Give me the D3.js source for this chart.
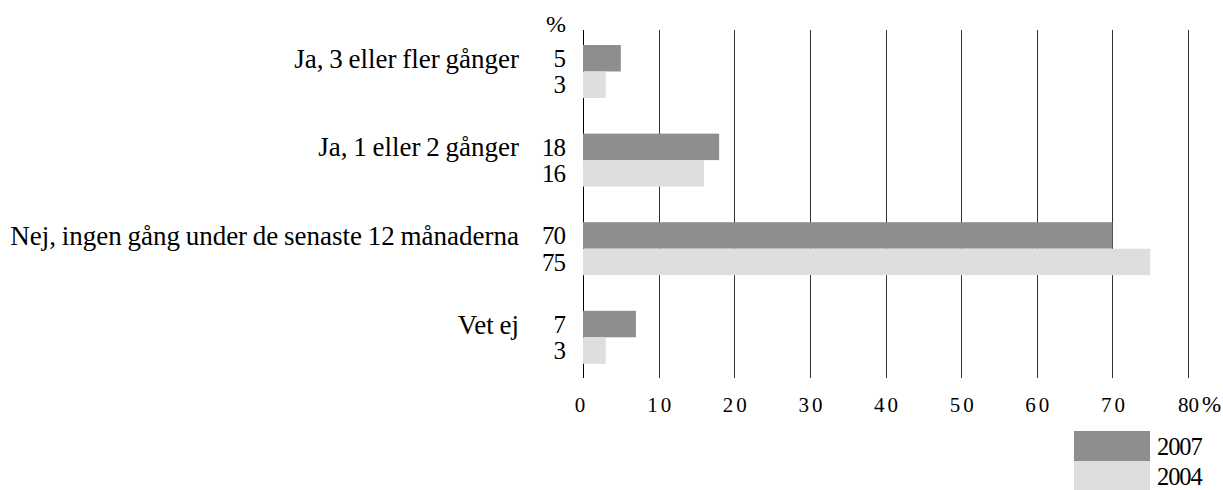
<!DOCTYPE html>
<html>
<head>
<meta charset="utf-8">
<script src="https://cdn.jsdelivr.net/npm/d3@7"></script>
<style>
  body { margin: 0; background: #fff; }
  svg text { font-family: "Liberation Serif", "Times New Roman", serif; fill: #000; }
</style>
</head>
<body>
<div id="chart"></div>
<script>
const categories = ['Ja, 3 eller fler gånger', 'Ja, 1 eller 2 gånger', 'Nej, ingen gång under de senaste 12 månaderna', 'Vet ej'];
const series = ['2007', '2004'];
const values2007 = [5, 18, 70, 7];
const values2004 = [3, 16, 75, 3];
const ticks = [0, 10, 20, 30, 40, 50, 60, 70, 80];

const colors = { '2007': '#8e8e8e', '2004': '#dedede' };
const width = 1223;
const height = 490;

const svg = d3.select('#chart')
  .append('svg')
  .attr('width', width)
  .attr('height', height);

const x = d3.scaleLinear().domain([0, 80]).range([583, 1188]);

const y = d3.scaleBand()
  .domain(categories)
  .range([45, 363.8])
  .paddingInner(0.402)
  .paddingOuter(0);

const ySub = d3.scaleBand().domain(series).range([0, y.bandwidth()]);

// gridlines
svg.append('g')
  .selectAll('line')
  .data(ticks)
  .enter()
  .append('line')
  .attr('x1', (d) => Math.round(x(d)) + 0.5)
  .attr('x2', (d) => Math.round(x(d)) + 0.5)
  .attr('y1', 30)
  .attr('y2', 378)
  .attr('stroke', (d) => (d === 0 ? '#000' : '#333'))
  .attr('stroke-width', 1);

const rows = categories.map((c, i) => ({
  cat: c,
  bars: [
    { year: '2007', value: values2007[i] },
    { year: '2004', value: values2004[i] },
  ],
}));

const group = svg.append('g')
  .selectAll('g')
  .data(rows)
  .enter()
  .append('g')
  .attr('transform', (d) => `translate(0,${y(d.cat)})`);

group.selectAll('rect')
  .data((d) => d.bars)
  .enter()
  .append('rect')
  .attr('x', x(0))
  .attr('y', (d) => ySub(d.year))
  .attr('width', (d) => x(d.value) - x(0))
  .attr('height', ySub.bandwidth())
  .attr('fill', (d) => colors[d.year]);

group.selectAll('text.val')
  .data((d) => d.bars)
  .enter()
  .append('text')
  .attr('class', 'val')
  .attr('x', 565)
  .attr('y', (d) => ySub(d.year) + ySub.bandwidth() / 2)
  .attr('dy', '0.35em')
  .attr('text-anchor', 'end')
  .style('font-size', '25px')
  .style('letter-spacing', '-1px')
  .text((d) => d.value);

group.append('text')
  .attr('x', 519)
  .attr('y', ySub('2007') + ySub.bandwidth() / 2)
  .attr('dy', '0.35em')
  .attr('text-anchor', 'end')
  .style('font-size', '27px')
  .style('word-spacing', '-1px')
  .text((d) => d.cat);

// "%" above the value column
svg.append('text')
  .attr('x', 566)
  .attr('y', 32)
  .attr('text-anchor', 'end')
  .style('font-size', '24px')
  .text('%');

// x axis
const axis = d3.axisBottom(x).tickValues(ticks).tickSize(0).tickPadding(0);
const axisG = svg.append('g')
  .attr('transform', 'translate(0,412)')
  .call(axis);
axisG.select('.domain').remove();
axisG.selectAll('text')
  .style('font-family', '"Liberation Serif", "Times New Roman", serif')
  .style('font-size', '21px')
  .style('letter-spacing', (d) => (d === 80 ? '0px' : '3px'))
  .attr('dx', (d) => (d === 0 ? -2 : d === 80 ? 0 : 1.5))
  .attr('dy', 0)
  .attr('fill', '#000');

svg.append('text')
  .attr('x', x(80) + 14)
  .attr('y', 412)
  .style('font-size', '23px')
  .text('%');

// legend
const legend = svg.append('g')
  .selectAll('g')
  .data(series)
  .enter()
  .append('g')
  .attr('transform', (d, i) => `translate(1074,${431 + i * 30})`);

legend.append('rect')
  .attr('width', 76)
  .attr('height', 30)
  .attr('fill', (d) => colors[d]);

legend.append('text')
  .attr('x', 83)
  .attr('y', 23.5)
  .style('font-size', '24.5px')
  .style('letter-spacing', '-1.1px')
  .text((d) => d);
</script>
</body>
</html>
